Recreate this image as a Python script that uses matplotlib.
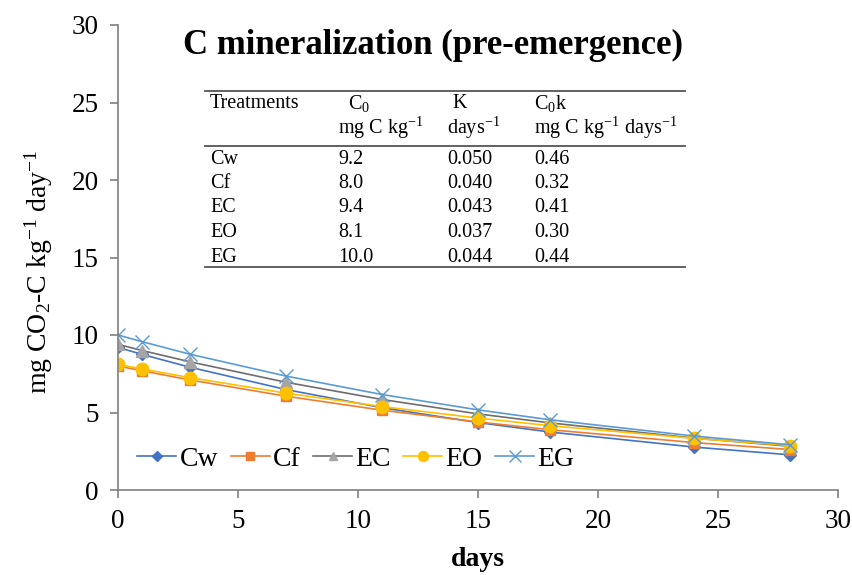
import numpy as np
import matplotlib
matplotlib.use('Agg')
import matplotlib.pyplot as plt
from matplotlib.lines import Line2D

plt.rcParams['font.family'] = 'Liberation Serif'
plt.rcParams['mathtext.fontset'] = 'custom'
plt.rcParams['mathtext.rm'] = 'Liberation Serif'
plt.rcParams['mathtext.it'] = 'Liberation Serif:italic'
plt.rcParams['mathtext.bf'] = 'Liberation Serif:bold'

# sampling days and CO2-C rates per treatment
days = [0, 1, 3, 7, 11, 15, 18, 24, 28]
cw = [9.2, 8.75, 7.92, 6.48, 5.31, 4.35, 3.74, 2.77, 2.27]
cf = [8.0, 7.69, 7.10, 6.05, 5.15, 4.39, 3.89, 3.06, 2.61]
ec = [9.4, 9.00, 8.27, 6.95, 5.84, 4.91, 4.33, 3.35, 2.82]
eo = [8.1, 7.81, 7.25, 6.25, 5.38, 4.64, 4.15, 3.33, 2.87]
eg = [10.0, 9.57, 8.76, 7.35, 6.16, 5.17, 4.53, 3.48, 2.92]

# first-order kinetics table
treatments = ['Cw', 'Cf', 'EC', 'EO', 'EG']
c0 = ['9.2', '8.0', '9.4', '8.1', '10.0']
kval = ['0.050', '0.040', '0.043', '0.037', '0.044']
c0k = ['0.46', '0.32', '0.41', '0.30', '0.44']

W, H = 853, 575
fig = plt.figure(figsize=(W / 100, H / 100), dpi=100)
ax = fig.add_axes([118 / W, 1 - 490 / H, (838 - 118) / W, (490 - 25) / H])

series = [
    ('Cw', cw, '#4472C4', '#4472C4', 'D', 6),
    ('Cf', cf, '#ED7D31', '#ED7D31', 's', 7),
    ('EC', ec, '#6E6E6E', '#A5A5A5', '^', 8),
    ('EO', eo, '#FFC000', '#FFC000', 'o', 9),
    ('EG', eg, '#5B9BD5', '#5B9BD5', 'x', 10),
]
for name, vals, lc, mc, mk, ms in series:
    ax.plot(days, vals, color=lc, lw=1.2, marker=mk, ms=ms,
            markerfacecolor=mc, markeredgecolor=mc, markeredgewidth=1.0,
            label=name)

ax.set_xlim(0, 30)
ax.set_ylim(0, 30)
ax.set_xticks(range(0, 31, 5))
ax.set_yticks(range(0, 31, 5))
for s in ['top', 'right']:
    ax.spines[s].set_visible(False)
for s in ['left', 'bottom']:
    ax.spines[s].set_color('#7f7f7f')
    ax.spines[s].set_linewidth(1.2)
ax.tick_params(axis='both', direction='out', length=6, width=1.2,
               color='#7f7f7f', labelsize=19.5, pad=8)

ax.set_xlabel('days', fontsize=20, fontweight='bold', labelpad=9)
ax.set_ylabel('mg CO$_2$-C kg$^{-1}$ day$^{-1}$', fontsize=20)
ax.yaxis.set_label_coords(-0.088, 0.47)

ax.legend(loc='lower left', bbox_to_anchor=(0.0, -0.003), ncol=5, frameon=False,
          fontsize=20, handlelength=1.4, handletextpad=0.12, columnspacing=0.45,
          borderaxespad=0.3, markerscale=0.8)

fig.text(433 / W, 1 - 45 / H, 'C mineralization (pre-emergence)',
         fontsize=25, fontweight='bold', ha='center', va='center')

# table rules
x0, x1 = 205 / W, 685 / W
for yy in [91, 146, 267]:
    fig.add_artist(Line2D([x0, x1], [1 - yy / H] * 2, color='#555555', lw=1.3))

fs = 14.5
col_x = [210, 338, 447, 534]
fig.text(col_x[0] / W, 1 - 104 / H, 'Treatments', fontsize=fs, va='center')
fig.text(348 / W, 1 - 104 / H, 'C$_0$', fontsize=fs, va='center')
fig.text(452 / W, 1 - 104 / H, 'K', fontsize=fs, va='center')
fig.text(col_x[3] / W, 1 - 104 / H, 'C$_0$k', fontsize=fs, va='center')
fig.text(col_x[1] / W, 1 - 128 / H, 'mg C kg$^{-1}$', fontsize=fs, va='center')
fig.text(col_x[2] / W, 1 - 128 / H, 'days$^{-1}$', fontsize=fs, va='center')
fig.text(col_x[3] / W, 1 - 128 / H, 'mg C kg$^{-1}$ days$^{-1}$', fontsize=fs, va='center')

for i, row in enumerate(zip(treatments, c0, kval, c0k)):
    y = 1 - (159 + i * 24.5) / H
    for x, txt in zip(col_x, row):
        fig.text(x / W, y, txt, fontsize=fs, va='center')

fig.savefig('out.png', dpi=100)
